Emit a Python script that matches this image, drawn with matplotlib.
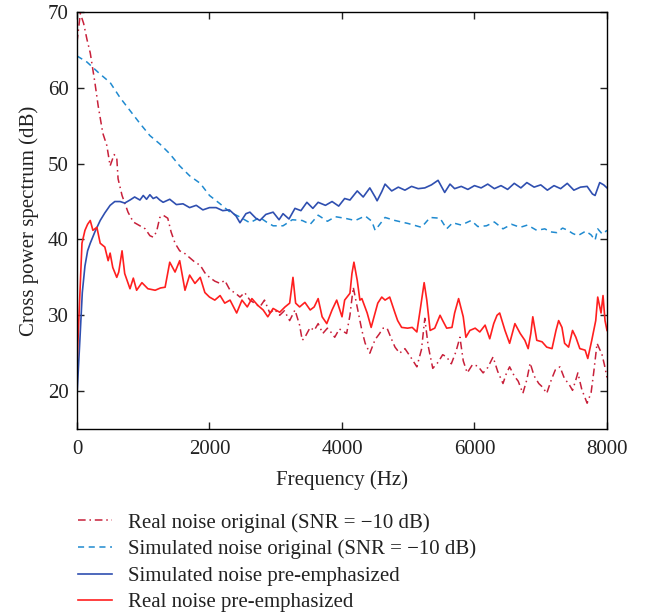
import numpy as np
import matplotlib
matplotlib.use("Agg")
import matplotlib.pyplot as plt

plt.rcParams["font.family"] = ["Liberation Serif", "DejaVu Serif"]
plt.rcParams["font.size"] = 15

C_RO = "#c8203a"   # real noise original
C_SO = "#1f8ad0"   # simulated noise original
C_SP = "#2f4fb0"   # simulated noise pre-emphasized
C_RP = "#ff1f1f"   # real noise pre-emphasized

# real noise original (SNR = -10 dB)
f_ro = [0, 50, 100, 150, 200, 270, 320, 390, 450, 500,
        560, 600, 620, 680, 770, 850, 950, 1030, 1100, 1150,
        1200, 1250, 1300, 1370, 1420, 1480, 1550, 1620, 1700, 1780,
        1860, 1930, 2000, 2080, 2160, 2230, 2310, 2380, 2460, 2530,
        2610, 2680, 2760, 2830, 2910, 2980, 3060, 3130, 3210, 3290,
        3360, 3400, 3440, 3520, 3580, 3640, 3710, 3780, 3850, 3890,
        3960, 4070, 4120, 4170, 4220, 4300, 4350, 4420, 4500, 4560,
        4620, 4680, 4750, 4800, 4870, 4950, 5050, 5130, 5200, 5250,
        5300, 5370, 5450, 5520, 5580, 5650, 5720, 5780, 5830, 5890,
        5970, 6050, 6130, 6200, 6280, 6350, 6430, 6480, 6530, 6600,
        6660, 6730, 6790, 6840, 6900, 6970, 7030, 7090, 7160, 7220,
        7290, 7360, 7420, 7480, 7530, 7560, 7620, 7700, 7760, 7800,
        7850, 7890, 7920, 7960, 8000]
real_orig = [66.0, 69.8, 68.5, 66.4, 64.6, 60.7, 57.6, 54.0, 52.4, 49.7,
             51.2, 50.8, 48.0, 45.8, 43.6, 42.3, 41.8, 41.4, 40.5, 40.3,
             41.0, 42.9, 43.2, 42.8, 41.0, 39.5, 38.5, 38.2, 37.6, 37.0,
             36.6, 35.6, 35.0, 34.5, 34.2, 34.6, 33.3, 33.0, 32.4, 33.0,
             32.0, 31.6, 31.1, 32.0, 30.3, 30.8, 30.0, 30.6, 29.3, 30.7,
             28.7, 26.7, 27.1, 28.4, 28.0, 28.9, 27.6, 28.3, 27.6, 27.1,
             28.2, 27.6, 30.0, 33.7, 31.5, 28.0, 26.3, 25.0, 26.8, 27.5,
             28.3, 28.3, 26.8, 25.8, 25.0, 25.6, 24.3, 23.2, 25.5, 29.6,
             26.0, 23.0, 23.8, 24.8, 24.5, 23.6, 25.2, 27.1, 24.0, 22.4,
             23.5, 23.3, 22.4, 23.1, 24.5, 22.6, 21.0, 22.3, 23.2, 22.0,
             21.3, 19.7, 21.5, 23.7, 22.0, 21.0, 20.5, 19.7, 21.5, 22.8,
             23.2, 21.6, 21.0, 20.1, 21.5, 22.4, 20.2, 18.4, 19.8, 22.5,
             26.3, 25.5, 25.0, 23.5, 21.8]

# simulated noise original (SNR = -10 dB)
f_so = [0, 150, 350, 500, 650, 800, 950, 1100, 1250, 1400,
        1550, 1700, 1860, 2000, 2160, 2310, 2450, 2610, 2760, 2860,
        2960, 3110, 3250, 3400, 3520, 3640, 3780, 3900, 4040, 4200,
        4350, 4450, 4500, 4650, 4800, 5000, 5200, 5330, 5480, 5580,
        5670, 5800, 5950, 6050, 6180, 6300, 6430, 6560, 6690, 6800,
        6940, 7060, 7150, 7240, 7330, 7410, 7480, 7560, 7680, 7760,
        7820, 7860, 7930, 8000]
sim_orig = [64.2, 63.4, 61.8, 60.7, 58.7, 57.0, 55.3, 53.7, 52.6, 51.3,
            49.7, 48.4, 47.4, 45.8, 44.7, 43.6, 43.0, 42.2, 42.9, 42.3,
            41.8, 41.8, 42.6, 42.5, 42.0, 43.2, 42.4, 43.0, 42.8, 42.5,
            43.1, 42.4, 41.2, 42.9, 42.5, 42.1, 41.6, 42.9, 42.8, 41.4,
            42.2, 41.9, 42.5, 41.7, 41.8, 42.3, 41.4, 42.0, 41.6, 41.9,
            41.2, 41.4, 41.0, 40.9, 41.5, 41.2, 40.8, 40.5, 41.1, 40.6,
            39.9, 41.4, 40.7, 41.2]

# simulated noise pre-emphasized
f_sp = [0, 45, 80, 120, 160, 200, 270, 350, 420, 500,
        570, 650, 720, 800, 870, 950, 1000, 1050, 1100, 1150,
        1200, 1250, 1300, 1400, 1500, 1600, 1700, 1800, 1900, 2000,
        2100, 2200, 2300, 2400, 2460, 2550, 2610, 2700, 2760, 2850,
        2960, 3050, 3110, 3200, 3290, 3380, 3470, 3560, 3640, 3750,
        3850, 3950, 4040, 4120, 4230, 4320, 4420, 4500, 4530, 4600,
        4650, 4750, 4850, 4950, 5050, 5150, 5250, 5350, 5450, 5500,
        5550, 5630, 5700, 5800, 5900, 6000, 6100, 6200, 6300, 6400,
        6500, 6600, 6700, 6790, 6900, 7000, 7100, 7200, 7300, 7400,
        7500, 7600, 7700, 7780, 7820, 7890, 7950, 8000]
sim_pre = [19.5, 27.0, 33.0, 36.5, 38.5, 39.5, 41.0, 42.5, 43.5, 44.5,
           45.0, 45.0, 44.8, 45.2, 45.6, 45.2, 45.8, 45.3, 45.9, 45.4,
           45.6, 45.2, 44.9, 45.3, 44.6, 44.7, 44.2, 44.5, 43.9, 44.2,
           44.2, 43.8, 43.9, 43.1, 42.2, 43.4, 43.6, 42.8, 42.5, 43.3,
           43.6, 42.6, 43.4, 42.7, 44.1, 43.8, 44.9, 44.1, 44.9, 44.5,
           45.0, 44.4, 45.4, 45.2, 46.4, 45.6, 46.8, 45.6, 45.1, 46.3,
           47.3, 46.4, 46.9, 46.5, 47.0, 46.7, 46.8, 47.2, 47.8, 47.0,
           46.2, 47.3, 46.7, 47.0, 46.6, 47.1, 46.8, 47.3, 46.7, 47.1,
           46.6, 47.4, 46.8, 47.5, 46.9, 47.2, 46.5, 47.1, 46.7, 47.4,
           46.5, 46.9, 47.0, 46.0, 45.8, 47.5, 47.2, 46.8]

# real noise pre-emphasized
f_rp = [0, 45, 75, 120, 160, 200, 240, 300, 350, 420,
        470, 500, 540, 600, 630, 680, 720, 800, 850, 900,
        980, 1070, 1180, 1260, 1330, 1400, 1480, 1550, 1630, 1700,
        1780, 1860, 1930, 2000, 2080, 2160, 2230, 2310, 2410, 2490,
        2570, 2640, 2730, 2810, 2880, 2960, 3060, 3140, 3210, 3260,
        3300, 3360, 3440, 3520, 3580, 3640, 3700, 3770, 3850, 3920,
        4000, 4040, 4120, 4150, 4180, 4230, 4270, 4300, 4380, 4440,
        4500, 4540, 4600, 4650, 4720, 4800, 4840, 4900, 4990, 5060,
        5130, 5180, 5240, 5280, 5330, 5400, 5480, 5520, 5580, 5660,
        5700, 5760, 5830, 5870, 5930, 6010, 6080, 6160, 6230, 6290,
        6340, 6380, 6460, 6530, 6610, 6690, 6760, 6810, 6850, 6880,
        6940, 7020, 7090, 7170, 7230, 7270, 7320, 7360, 7420, 7480,
        7530, 7590, 7670, 7710, 7770, 7830, 7860, 7910, 7940, 7970,
        8000]
real_pre = [23.5, 33.3, 39.5, 41.2, 42.0, 42.5, 41.2, 41.6, 39.5, 39.0,
            37.2, 38.2, 36.3, 35.0, 35.7, 38.5, 35.5, 33.5, 34.9, 33.3,
            34.3, 33.5, 33.3, 33.6, 33.7, 37.0, 35.7, 37.2, 33.3, 35.3,
            34.2, 35.0, 33.0, 32.4, 32.0, 32.6, 31.6, 32.0, 30.3, 32.0,
            31.1, 32.2, 31.3, 30.7, 29.8, 30.9, 30.4, 31.1, 31.6, 35.0,
            31.6, 31.1, 31.7, 30.7, 31.1, 32.2, 29.8, 28.9, 30.7, 32.0,
            29.8, 32.0, 32.9, 35.5, 37.0, 34.6, 32.0, 32.2, 30.3, 28.4,
            30.3, 31.6, 32.4, 32.0, 32.4, 30.3, 29.3, 28.4, 28.3, 28.4,
            27.8, 30.7, 34.3, 32.0, 28.0, 28.3, 30.0, 29.3, 28.3, 28.4,
            30.3, 32.2, 29.8, 27.1, 28.0, 28.3, 27.8, 28.7, 26.9, 28.9,
            30.0, 30.3, 28.0, 26.3, 28.9, 27.6, 26.7, 25.6, 27.6, 29.8,
            26.7, 26.5, 25.8, 25.6, 28.0, 29.3, 28.4, 26.3, 25.8, 28.0,
            27.1, 25.6, 25.4, 24.3, 26.7, 29.3, 32.4, 30.3, 32.6, 29.3,
            28.0]

labels = ["Real noise original (SNR = \u221210 dB)",
          "Simulated noise original (SNR = \u221210 dB)",
          "Simulated noise pre-emphasized",
          "Real noise pre-emphasized"]

fig = plt.figure(figsize=(6.57, 6.16), dpi=100)
ax = fig.add_axes([77 / 657, 1 - 429 / 616, 530 / 657, 417 / 616])

l1, = ax.plot(f_ro, real_orig, color=C_RO, lw=1.1, dashes=(5, 2.5, 1, 2.5))
l2, = ax.plot(f_so, sim_orig, color=C_SO, lw=1.1, dashes=(4, 3))
l3, = ax.plot(f_sp, sim_pre, color=C_SP, lw=1.2)
l4, = ax.plot(f_rp, real_pre, color=C_RP, lw=1.2)

ax.set_xlim(0, 8000)
ax.set_ylim(15, 70)
ax.set_xticks([0, 2000, 4000, 6000, 8000])
ax.set_yticks([20, 30, 40, 50, 60, 70])
ax.tick_params(direction="in", top=True, right=True, length=5, width=1,
               pad=6, colors="#222222")
ax.tick_params(axis="x", pad=8)
for s in ax.spines.values():
    s.set_linewidth(1.0)
ax.set_xlabel("Frequency (Hz)", color="#222222", labelpad=8)
ax.set_ylabel("Cross power spectrum (dB)", color="#222222", labelpad=6)

fig.legend([l1, l2, l3, l4], labels, loc="upper left",
           bbox_to_anchor=(78 / 657, 1 - 513 / 616), frameon=False,
           borderpad=0, borderaxespad=0, handlelength=1.65,
           handletextpad=0.75, labelspacing=0.33, labelcolor="#222222")

fig.savefig("out.png", dpi=100)
